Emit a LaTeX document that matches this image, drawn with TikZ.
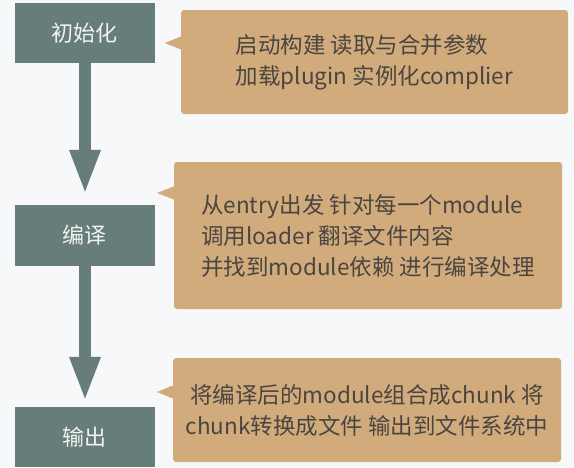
\documentclass[tikz,border=0pt]{standalone}
\usepackage{fontspec}
\setmainfont{Noto Sans CJK SC}
\usetikzlibrary{arrows.meta}
\definecolor{bgc}{HTML}{F7F8FA}
\definecolor{stepc}{HTML}{667D79}
\definecolor{notec}{HTML}{D2AB7C}
\definecolor{notetext}{HTML}{4A4540}
\tikzset{
  stepbox/.style={fill=stepc, text=white!95!black, minimum width=140pt, inner sep=0pt, font=\fontsize{22pt}{26pt}\selectfont},
  notebox/.style={fill=notec, text=notetext, rounded corners=3pt, inner sep=0pt, minimum width=388pt, font=\fontsize{22.5pt}{31pt}\selectfont},
  flow/.style={draw=stepc, line width=12pt, -{Triangle[width=28pt,length=45pt]}},
  pointer/.style={fill=notec}
}
\begin{document}
\begin{tikzpicture}[x=1pt,y=-1pt]
\fill[bgc] (0,0) rectangle (574,467);
\useasboundingbox (0,0) rectangle (574,467);
% steps
\node[stepbox, minimum height=60pt] (s1) at (85,33) {初始化};
\node[stepbox, minimum height=61pt] (s2) at (85,235.5) {编译};
\node[stepbox, minimum height=60pt] (s3) at (85,437) {输出};
% arrows
\draw[flow, shorten >=10pt] (s1.south) -- (s2.north);
\draw[flow, shorten >=5pt] (s2.south) -- (s3.north);
% notes
\node[notebox, minimum width=387pt, minimum height=104pt, align=left] (n1) at (374.5,62) {启动构建 读取与合并参数\\加载plugin 实例化complier};
\node[notebox, minimum height=147pt, align=left] (n2) at (368,235.5) {从entry出发 针对每一个module\\调用loader 翻译文件内容\\并找到module依赖 进行编译处理};
\node[notebox, minimum height=104pt, align=center] (n3) at (367,410) {将编译后的module组合成chunk 将\\chunk转换成文件 输出到文件系统中};
% pointers
\coordinate (p1) at (165,43);
\coordinate (p2) at (157,193);
\coordinate (p3) at (157,392);
\fill[pointer] (p1) -- ([yshift=6.5pt]n1.west |- p1) -- ([yshift=-6.5pt]n1.west |- p1) -- cycle;
\fill[pointer] (p2) -- ([yshift=6.5pt]n2.west |- p2) -- ([yshift=-6.5pt]n2.west |- p2) -- cycle;
\fill[pointer] (p3) -- ([yshift=6.5pt]n3.west |- p3) -- ([yshift=-6.5pt]n3.west |- p3) -- cycle;
\end{tikzpicture}
\end{document}
